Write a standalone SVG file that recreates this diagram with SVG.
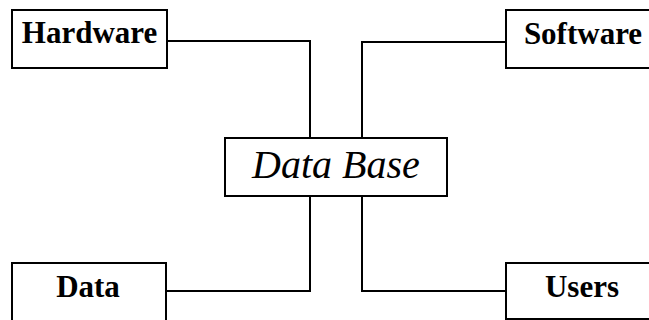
<svg xmlns="http://www.w3.org/2000/svg" width="649" height="320" viewBox="0 0 649 320">
<style>
.box{fill:#fff;stroke:#000;stroke-width:2}
.lbl{font-family:"Liberation Serif","Times New Roman",serif;font-weight:bold;font-size:31px;text-anchor:middle;fill:#000}
.main{font-family:"Liberation Serif","Times New Roman",serif;font-style:italic;font-size:40px;text-anchor:middle;fill:#000}
.conn{fill:none;stroke:#000;stroke-width:2}
</style>
<rect width="649" height="320" fill="#fff"/>
<g id="connectors">
<polyline class="conn" points="167,41 310,41 310,138"/>
<polyline class="conn" points="506,42 362,42 362,138"/>
<polyline class="conn" points="166,291 310,291 310,196"/>
<polyline class="conn" points="506,291 362,291 362,196"/>
</g>
<g id="hardware">
<rect class="box" x="12" y="10" width="155" height="58"/>
<text class="lbl" x="89.5" y="43">Hardware</text>
</g>
<g id="software">
<rect class="box" x="506" y="10" width="154" height="58"/>
<text class="lbl" x="583" y="44">Software</text>
</g>
<g id="database">
<rect class="box" x="225" y="138" width="222" height="58"/>
<text class="main" x="336" y="178">Data Base</text>
</g>
<g id="data">
<rect class="box" x="12" y="263" width="154" height="70"/>
<text class="lbl" x="88" y="297">Data</text>
</g>
<g id="users">
<rect class="box" x="506" y="263" width="154" height="56"/>
<text class="lbl" x="582" y="297">Users</text>
</g>
</svg>
